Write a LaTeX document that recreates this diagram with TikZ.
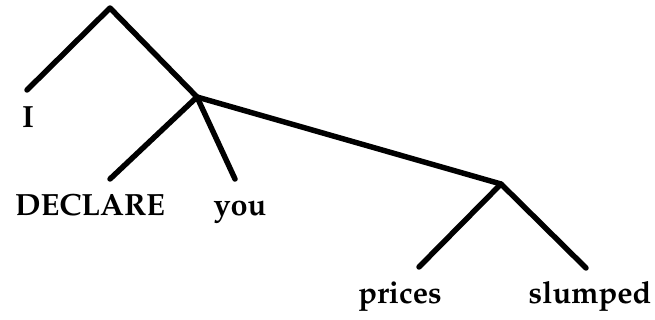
\documentclass[tikz,border=0pt]{standalone}
\usepackage[T1]{fontenc}
\usepackage{mathpazo}
\usepackage{tikz}
\usetikzlibrary{positioning}

\tikzset{
  branch/.style={line width=4.1pt,line cap=round,line join=round},
  leaf/.style={font=\fontsize{23}{25}\selectfont\bfseries,inner sep=0pt,anchor=base}
}

\begin{document}
\begin{tikzpicture}[x=0.75pt,y=-0.75pt]
  \useasboundingbox (0,0) rectangle (655,320);

  % branching points
  \coordinate (top) at (110,8);
  \coordinate (vp) at (197,97);
  \coordinate (s2) at (501,184);

  % leaf ends
  \coordinate (iend) at (27,90);
  \coordinate (dend) at (110,179);
  \coordinate (yend) at (235,179);
  \coordinate (pend) at (419,267);
  \coordinate (send) at (586,268);

  \node[leaf] (i) at (28,128) {I};
  \node[leaf] (declare) at (90,215) {DECLARE};
  \node[leaf] (you) at (240,215) {you};
  \node[leaf] (prices) at (400,303) {prices};
  \node[leaf] (slumped) at (590,303) {slumped};

  \draw[branch] (iend) -- (top) -- (vp);
  \draw[branch] (dend) -- (vp) -- (yend);
  \draw[branch] (vp) -- (s2);
  \draw[branch] (pend) -- (s2) -- (send);
\end{tikzpicture}
\end{document}
